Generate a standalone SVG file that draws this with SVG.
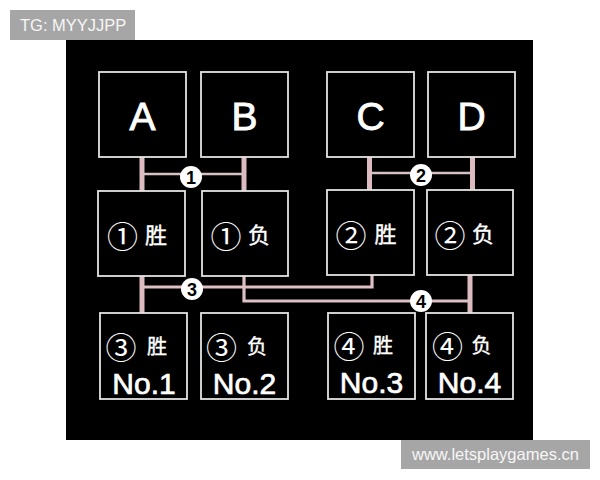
<svg xmlns="http://www.w3.org/2000/svg" width="600" height="480" viewBox="0 0 600 480">
<style>
.box{fill:#000;stroke:#e4e4e4;stroke-width:1.8}
.big{font-family:"Liberation Sans",Arial,sans-serif;font-size:39px;fill:#fff;stroke:#fff;stroke-width:0.9;text-anchor:middle}
.no{font-family:"Liberation Sans",Arial,sans-serif;font-size:30px;fill:#fff;stroke:#fff;stroke-width:0.7;text-anchor:middle}
.circ{font-family:"Noto Sans CJK SC",sans-serif;font-size:31px;fill:#fff;text-anchor:middle}
.cjk{font-family:"Noto Sans CJK SC",sans-serif;font-size:22px;fill:#fff;stroke:#fff;stroke-width:0.4;text-anchor:middle}
.cjks{font-family:"Noto Sans CJK SC",sans-serif;font-size:20px;fill:#fff;stroke:#fff;stroke-width:0.4;text-anchor:middle}
.thick{stroke:#dcbcc0;stroke-width:5;fill:none}
.thin{stroke:#d6c2c4;stroke-width:2.5;fill:none}
.mid{stroke:#dcc0c4;stroke-width:3.2;fill:none}
.badge{fill:#fff}
.bn{font-family:"Liberation Sans",Arial,sans-serif;font-weight:bold;font-size:18px;fill:#000;text-anchor:middle}
.tag{fill:#a6a6a6}
.tagt{font-family:"Liberation Sans",Arial,sans-serif;font-size:16.5px;fill:#f6f6f6}
</style>
<rect width="600" height="480" fill="#fff"/>
<rect x="66" y="40" width="467" height="400" fill="#000"/>
<g id="connectors">
<line class="thick" x1="142" y1="157" x2="142" y2="191"/>
<line class="thick" x1="244" y1="157" x2="244" y2="191"/>
<line class="thin" x1="142" y1="174" x2="244" y2="174"/>
<line class="thick" x1="369.5" y1="157" x2="369.5" y2="190"/>
<line class="thick" x1="472.5" y1="157" x2="472.5" y2="190"/>
<line class="thin" x1="369.5" y1="173" x2="472.5" y2="173"/>
<line class="thick" x1="142" y1="276" x2="142" y2="313"/>
<polyline class="mid" points="142,287 372,287 372,275"/>
<line class="thick" x1="470" y1="275" x2="470" y2="313"/>
<polyline class="mid" points="244,276 244,301 470,301"/>
<circle class="badge" cx="191" cy="177" r="11"/>
<text class="bn" x="191" y="183.5">1</text>
<circle class="badge" cx="421" cy="175" r="11"/>
<text class="bn" x="421" y="181.5">2</text>
<circle class="badge" cx="192" cy="289" r="11"/>
<text class="bn" x="192" y="295.5">3</text>
<circle class="badge" cx="421" cy="301" r="11"/>
<text class="bn" x="421" y="307.5">4</text>
</g>
<g id="nodeA"><rect class="box" x="99" y="72" width="87" height="85"/><text class="big" x="142.5" y="130">A</text></g>
<g id="nodeB"><rect class="box" x="201" y="72" width="87" height="85"/><text class="big" x="244.5" y="130">B</text></g>
<g id="nodeC"><rect class="box" x="327" y="72" width="87" height="85"/><text class="big" x="370.5" y="130">C</text></g>
<g id="nodeD"><rect class="box" x="428" y="72" width="87" height="85"/><text class="big" x="471.5" y="130">D</text></g>
<g id="m1"><rect class="box" x="98" y="191" width="87" height="85"/><text class="circ" x="122.5" y="247.5">①</text><text class="cjk" x="156" y="243">胜</text></g>
<g id="m2"><rect class="box" x="202" y="191" width="86" height="85"/><text class="circ" x="226" y="247.5">①</text><text class="cjk" x="259" y="243">负</text></g>
<g id="m3"><rect class="box" x="327" y="190" width="87" height="85"/><text class="circ" x="351" y="246.5">②</text><text class="cjk" x="385.5" y="242">胜</text></g>
<g id="m4"><rect class="box" x="427" y="190" width="86" height="85"/><text class="circ" x="450" y="246.5">②</text><text class="cjk" x="483" y="242">负</text></g>
<g id="b1"><rect class="box" x="100" y="313" width="87" height="86"/><text class="circ" x="121" y="358.5">③</text><text class="cjks" x="157" y="354">胜</text><text class="no" x="144" y="394">No.1</text></g>
<g id="b2"><rect class="box" x="201" y="313" width="87" height="86"/><text class="circ" x="221.5" y="358.5">③</text><text class="cjks" x="257" y="354">负</text><text class="no" x="244.5" y="394">No.2</text></g>
<g id="b3"><rect class="box" x="328" y="313" width="87" height="86"/><text class="circ" x="349" y="357.5">④</text><text class="cjks" x="383" y="353">胜</text><text class="no" x="371.5" y="393">No.3</text></g>
<g id="b4"><rect class="box" x="426" y="313" width="87" height="86"/><text class="circ" x="447.5" y="357.5">④</text><text class="cjks" x="481.5" y="353">负</text><text class="no" x="469.5" y="393">No.4</text></g>
<g id="tagTop"><rect class="tag" x="10" y="10" width="125" height="30"/><text class="tagt" x="20" y="31">TG: MYYJJPP</text></g>
<g id="tagBottom"><rect class="tag" x="401" y="440" width="189" height="29"/><text class="tagt" x="412" y="460">www.letsplaygames.cn</text></g>
</svg>
